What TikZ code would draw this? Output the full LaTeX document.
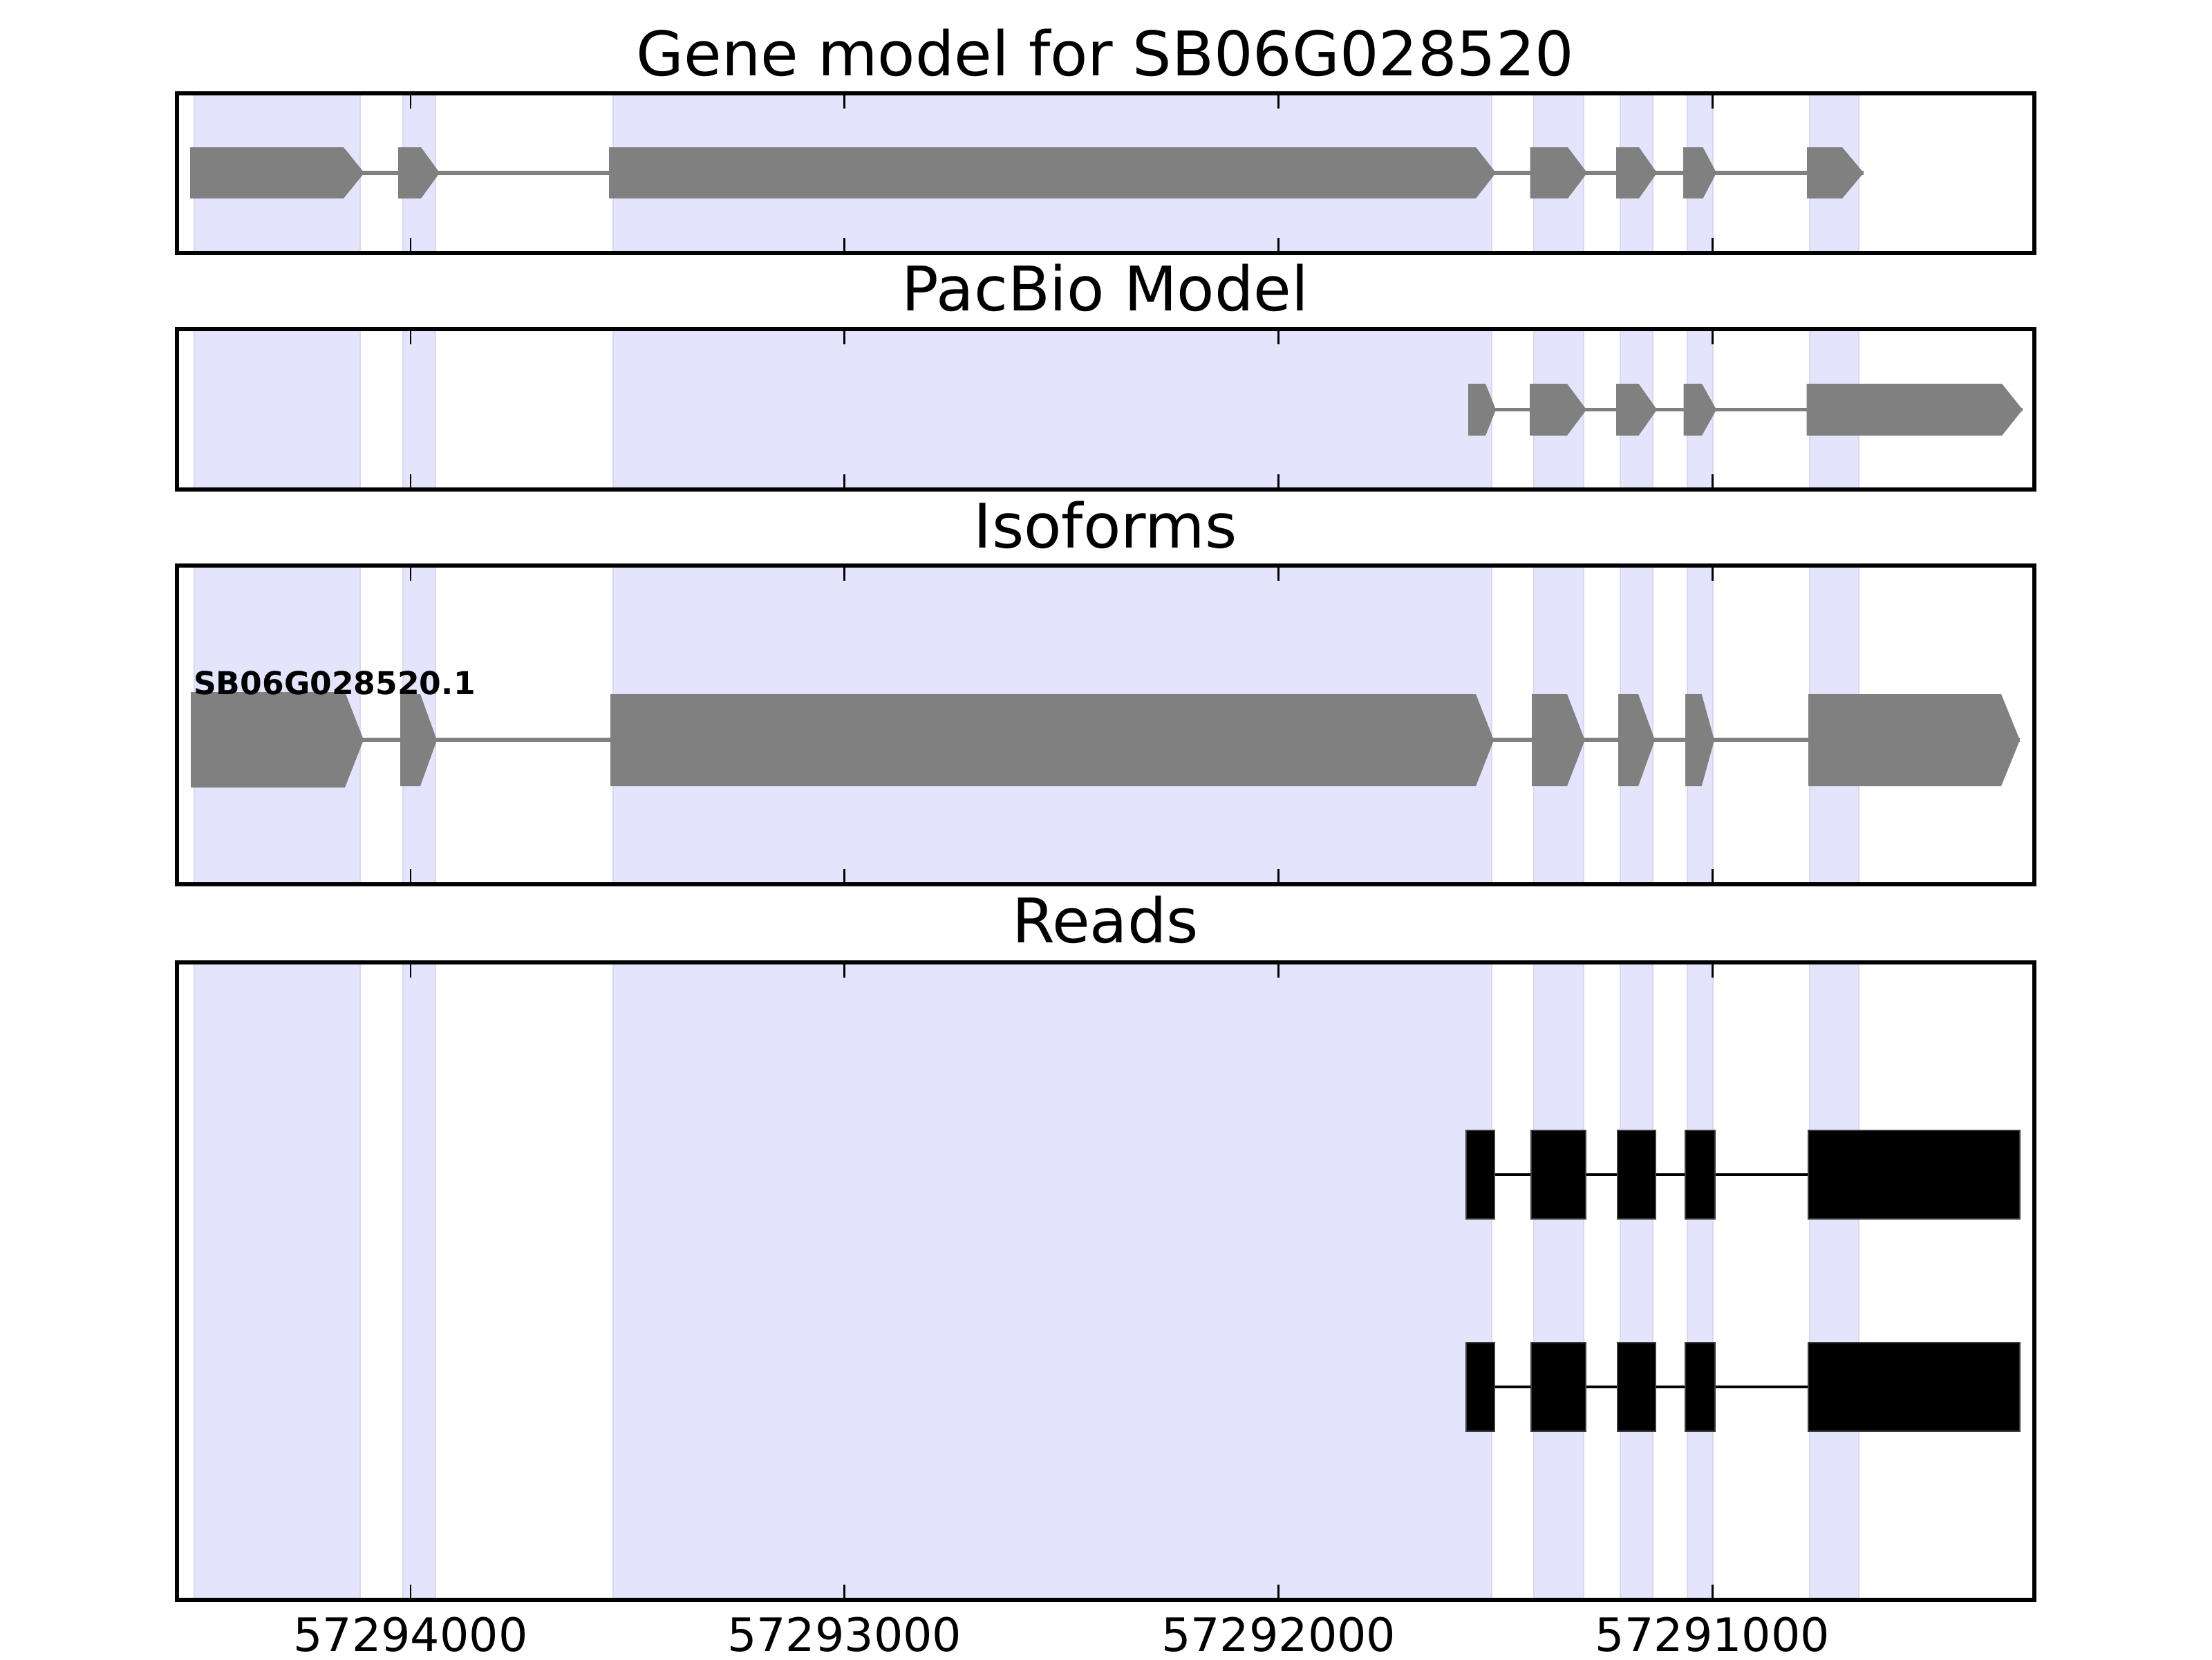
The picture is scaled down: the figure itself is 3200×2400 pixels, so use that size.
\documentclass[tikz,border=0pt]{standalone}
\usepackage{fontspec}
\setmainfont{DejaVu Sans}
\newcommand\garrow[5]{\fill[gexon] (#1,#4) -- (#2,#4) -- (#3,{(#4+#5)/2}) -- (#2,#5) -- (#1,#5) -- cycle;}
\newcommand\rbox[4]{\draw[rexon] (#1,#3) rectangle (#2,#4);}
\begin{document}
\begin{tikzpicture}[x=0.18pt,y=-0.18pt,
  band/.style={fill={rgb,255:red,228;green,228;blue,253},draw={rgb,255:red,216;green,216;blue,238},line width=0.4pt},
  frame/.style={draw=black,line width=1pt},
  tickmark/.style={draw=black,line width=0.5pt},
  gexon/.style={fill={rgb,255:red,128;green,128;blue,128}},
  gintron/.style={draw={rgb,255:red,128;green,128;blue,128},line width=1pt},
  rexon/.style={fill=black,draw={rgb,255:red,60;green,60;blue,60},line width=0.3pt},
  rintron/.style={draw=black,line width=0.75pt},
  ptitle/.style={font=\fontsize{16}{19}\selectfont,anchor=base},
  ticklabel/.style={font=\fontsize{12}{14}\selectfont,anchor=base}
]
\useasboundingbox[fill=white] (0,0) rectangle (3200,2400);

% exon shading bands
\foreach \t/\b in {135/366,476/708,818/1279,1392/2314} {
  \foreach \l/\r in {281/521,583/630,887/2158,2219/2291,2344/2391,2441/2478,2618/2689}
    \path[band] (\l,\t) rectangle (\r,\b);
}

% Gene model
\draw[gintron] (275,250) -- (2696,250);
\garrow{275}{497}{527}{213}{287}
\garrow{576}{609}{636}{213}{287}
\garrow{881}{2135}{2164}{213}{287}
\garrow{2213.5}{2268}{2296}{213}{287}
\garrow{2338}{2371}{2397}{213}{287}
\garrow{2435}{2463.5}{2483}{213}{287}
\garrow{2614}{2665}{2696}{213}{287}

% PacBio model
\draw[gintron] (2124,592.5) -- (2926,592.5);
\garrow{2124}{2149}{2164}{555}{630}
\garrow{2213}{2267}{2295}{555}{630}
\garrow{2338}{2370.5}{2397}{555}{630}
\garrow{2435.6}{2462}{2483}{555}{630}
\garrow{2613.5}{2896}{2926}{555}{630}

% Isoforms
\draw[gintron] (276,1070) -- (2922,1070);
\garrow{276}{499}{526}{1001}{1139}
\garrow{579}{608}{632}{1004}{1137}
\garrow{883}{2135}{2161}{1004}{1137}
\garrow{2216}{2267}{2292.7}{1004}{1137}
\garrow{2341}{2370}{2394}{1004}{1137}
\garrow{2438}{2461.7}{2480}{1004}{1137}
\garrow{2616}{2895}{2922}{1004}{1137}
\node[anchor=base west,inner sep=0pt,font=\bfseries\fontsize{8.2}{10}\selectfont] (isolabel) at (279,1004) {SB06G028520.1};

% Reads
\foreach \c/\tp/\bt in {1699/1635/1763,2006/1942/2070} {
  \draw[rintron] (2121,\c) -- (2922,\c);
  \rbox{2121}{2162}{\tp}{\bt}
  \rbox{2215}{2294}{\tp}{\bt}
  \rbox{2340}{2395}{\tp}{\bt}
  \rbox{2438}{2481}{\tp}{\bt}
  \rbox{2616}{2922}{\tp}{\bt}
}

% frames and ticks
\foreach \t/\b in {135/366,476/708,818/1279,1392/2314} {
  \draw[frame] (256,\t) rectangle (2943,\b);
  \foreach \x in {594,1221.8,1849.7,2477.5} {
    \draw[tickmark] (\x,\t) -- (\x,{\t+22});
    \draw[tickmark] (\x,\b) -- (\x,{\b-22});
  }
}

% titles
\node[ptitle] (title1) at (1599,109) {Gene model for SB06G028520};
\node[ptitle] (title2) at (1599,449) {PacBio Model};
\node[ptitle] (title3) at (1599,792) {Isoforms};
\node[ptitle] (title4) at (1599,1363) {Reads};

% tick labels
\node[ticklabel] (tl1) at (594,2388) {57294000};
\node[ticklabel] (tl2) at (1221.8,2388) {57293000};
\node[ticklabel] (tl3) at (1849.7,2388) {57292000};
\node[ticklabel] (tl4) at (2477.5,2388) {57291000};
\end{tikzpicture}
\end{document}
